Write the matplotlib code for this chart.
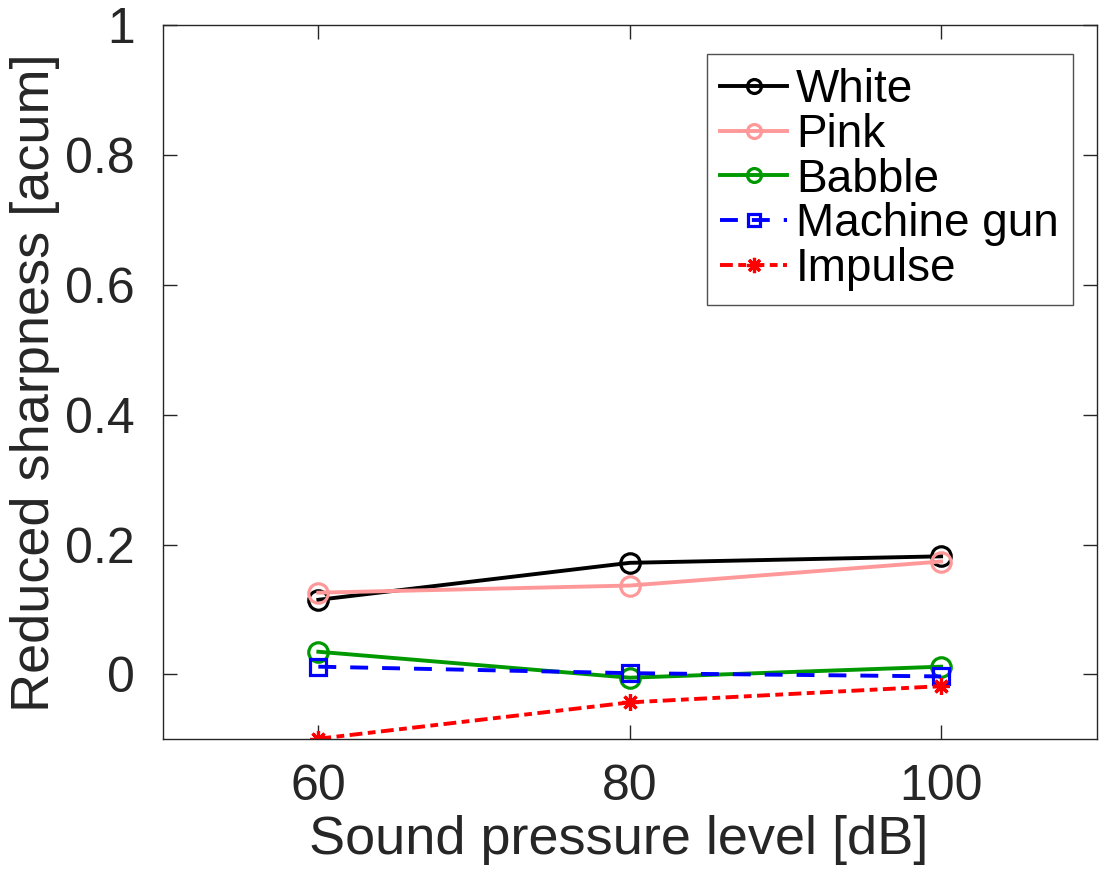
import matplotlib
matplotlib.use("Agg")
import matplotlib.pyplot as plt
from matplotlib.lines import Line2D

plt.rcParams['font.family'] = ['Liberation Sans', 'DejaVu Sans']

spl = [60, 80, 100]
white = [0.115, 0.172, 0.182]
pink = [0.126, 0.137, 0.174]
babble = [0.035, -0.005, 0.012]
machine_gun = [0.012, 0.002, -0.003]
impulse = [-0.099, -0.043, -0.018]

fig = plt.figure(figsize=(10.99, 8.75), dpi=100)
ax = fig.add_axes([0.148, 0.155, 0.85, 0.816])

lw = 2.8
ms = 14
mew = 2.3
star = (8, 2, 0)
dash = (0, (4.6, 3.6))
dashdot = (0, (3.3, 1.4, 2.0, 1.4))

ax.plot(spl, white, '-o', color='black', lw=lw, ms=ms, mfc='none', mew=mew, label='White')
ax.plot(spl, pink, '-o', color='#FF9999', lw=lw, ms=ms, mfc='none', mew=mew, label='Pink')
ax.plot(spl, babble, '-o', color='#009900', lw=lw, ms=ms, mfc='none', mew=mew, label='Babble')
ax.plot(spl, machine_gun, linestyle=dash, marker='s', color='blue', lw=lw, ms=11, mfc='none', mew=mew, label='Machine gun')
ax.plot(spl, impulse, linestyle=dashdot, marker=star, color='red', lw=lw, ms=12, mew=mew, label='Impulse')

ax.set_xlim(50, 110)
ax.set_ylim(-0.1, 1)
ax.set_xticks([60, 80, 100])
ax.set_yticks([0, 0.2, 0.4, 0.6, 0.8, 1])
ax.set_yticklabels(['0', '0.2', '0.4', '0.6', '0.8', '1'])

ax.tick_params(direction='in', length=10, width=1, top=True, right=True,
               labelsize=36, colors='#262626')
ax.tick_params(axis='y', pad=20)
ax.tick_params(axis='x', pad=18)
for s in ax.spines.values():
    s.set_color('#262626')
    s.set_linewidth(1)

ax.set_xlabel('Sound pressure level [dB]', fontsize=39, color='#262626', labelpad=3)
ax.xaxis.label.set_x(0.488)
ax.set_ylabel('Reduced sharpness [acum]', fontsize=39, color='#262626', labelpad=4)

handles = [
    Line2D([], [], linestyle='-', marker='o', color='black', lw=lw, ms=10, mfc='none', mew=mew),
    Line2D([], [], linestyle='-', marker='o', color='#FF9999', lw=lw, ms=10, mfc='none', mew=mew),
    Line2D([], [], linestyle='-', marker='o', color='#009900', lw=lw, ms=10, mfc='none', mew=mew),
    Line2D([], [], linestyle=dash, marker='s', color='blue', lw=lw, ms=9, mfc='none', mew=mew),
    Line2D([], [], linestyle=dashdot, marker=star, color='red', lw=lw, ms=11, mew=mew),
]
labels = ['White', 'Pink', 'Babble', 'Machine gun', 'Impulse']
leg = ax.legend(handles, labels, loc='upper right', bbox_to_anchor=(0.974, 0.96), fontsize=33,
                frameon=True, fancybox=False, edgecolor='#262626', handlelength=1.45,
                handletextpad=0.2, borderpad=0.3, labelspacing=0.02, borderaxespad=0)
leg.get_frame().set_linewidth(1)

fig.savefig('out.png', dpi=100)
